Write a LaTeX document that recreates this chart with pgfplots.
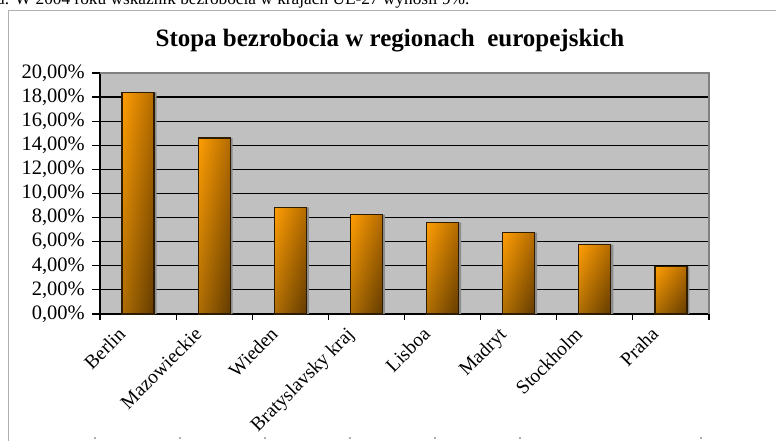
\documentclass[border=0pt]{standalone}
\usepackage{pgfplots}
\pgfplotsset{compat=1.18}
\usepackage{fontspec}
\setmainfont{Liberation Serif}
\definecolor{plotbg}{RGB}{192,192,192}
\definecolor{bartop}{RGB}{255,152,0}
\definecolor{barbot}{RGB}{108,64,0}
\definecolor{barleft}{RGB}{255,165,10}
\definecolor{barright}{RGB}{90,55,0}
\definecolor{baredge}{RGB}{45,28,0}
\definecolor{framegray}{RGB}{175,175,175}
\pgfplotsset{
  barbase/.style={ybar, bar shift=0pt, bar width=32pt, draw=none, top color=bartop, bottom color=barbot},
  barover/.style={ybar, bar shift=0pt, bar width=32pt, draw=baredge, line width=1.2pt, left color=barleft, right color=barright, fill opacity=0.45, draw opacity=1},
}
\begin{document}
\begin{tikzpicture}[x=1pt,y=1pt]
\useasboundingbox (0,0) rectangle (776,441);
\clip (0,0) rectangle (776,441);
% cut-off text line above the chart
\node[anchor=base west, inner sep=0pt, font=\fontsize{17.3}{20}\selectfont] at (-3,436) {a. W 2004 roku wskaźnik bezrobocia w krajach UE-27 wynosił 9\%.};
% chart frame
\draw[color=framegray, line width=1pt] (8.5,-5) -- (8.5,430.5) -- (790,430.5);
\foreach \x in {95,180,265,350,435,520,701} \fill[framegray] (\x-1,2) rectangle (\x+1,4);
% title
\node[anchor=base, inner sep=0pt, font=\bfseries\fontsize{25}{30}\selectfont] at (390,394) {Stopa bezrobocia w regionach\ \ europejskich};
\begin{axis}[
  at={(100pt,127pt)}, anchor=south west,
  scale only axis, width=609pt, height=241pt,
  xmin=-0.5, xmax=7.5, ymin=0, ymax=20,
  axis x line*=bottom, axis y line*=left,
  axis line style={black, line width=1.2pt},
  axis background/.style={fill=plotbg},
  ymajorgrids, grid style={black, line width=1.2pt},
  ytick={0,2,...,20},
  yticklabel={\pgfmathprintnumber[fixed,fixed zerofill,precision=2,use comma,assume math mode=true]{\tick}\%},
  tick align=outside,
  major tick length=8pt,
  minor tick length=6pt,
  y tick style={black, line width=1.2pt},
  major x tick style={draw=none},
  minor x tick style={black, line width=1.2pt},
  xtick={0,...,7},
  minor xtick={-0.5,0.5,...,7.5},
  xticklabels={Berlin,Mazowieckie,Wieden,Bratyslavsky kraj,Lisboa,Madryt,Stockholm,Praha},
  xticklabel style={font=\fontsize{19.5}{21}\selectfont, inner sep=0pt, xshift=-21pt, yshift=-4pt, rotate=45, anchor=north east},
  yticklabel style={font=\fontsize{20.5}{22}\selectfont, inner sep=0pt, xshift=-7pt},
  clip=false,
]
% shadow
\addplot[ybar, bar shift=2.5pt, bar width=32pt, fill=black!45, draw=none] coordinates {(0,18.4) (1,14.6) (2,8.85) (3,8.25) (4,7.6) (5,6.75) (6,5.75) (7,3.95)};
% bars, one plot per bar so that each bar gets its own gradient
\addplot[barbase] coordinates {(0,18.4)};
\addplot[barover] coordinates {(0,18.4)};
\addplot[barbase] coordinates {(1,14.6)};
\addplot[barover] coordinates {(1,14.6)};
\addplot[barbase] coordinates {(2,8.85)};
\addplot[barover] coordinates {(2,8.85)};
\addplot[barbase] coordinates {(3,8.25)};
\addplot[barover] coordinates {(3,8.25)};
\addplot[barbase] coordinates {(4,7.6)};
\addplot[barover] coordinates {(4,7.6)};
\addplot[barbase] coordinates {(5,6.75)};
\addplot[barover] coordinates {(5,6.75)};
\addplot[barbase] coordinates {(6,5.75)};
\addplot[barover] coordinates {(6,5.75)};
\addplot[barbase] coordinates {(7,3.95)};
\addplot[barover] coordinates {(7,3.95)};
\draw[color=black!50, line width=1.2pt] (rel axis cs:0,1) -- (rel axis cs:1,1) -- (rel axis cs:1,0);
\end{axis}
\end{tikzpicture}
\end{document}
